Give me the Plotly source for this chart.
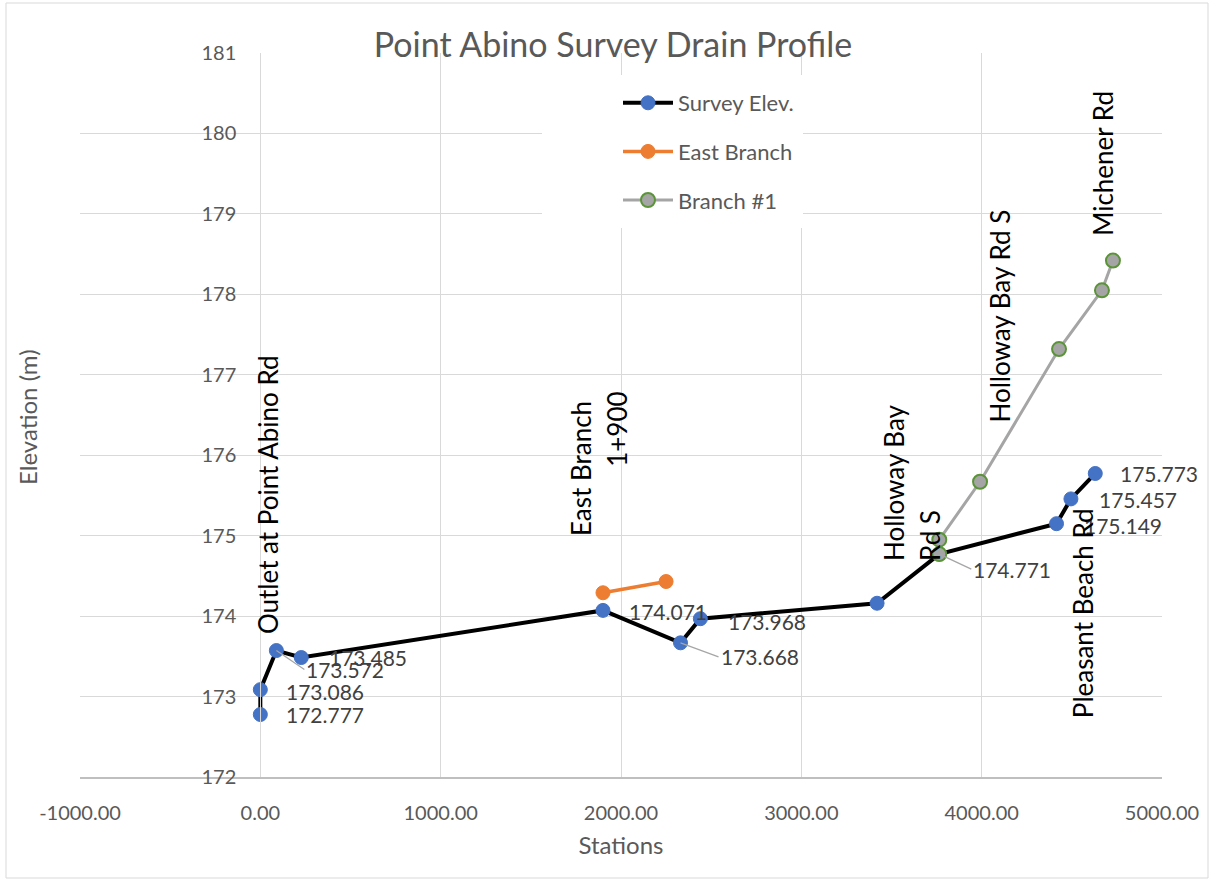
import plotly.graph_objects as go

# ---- data -------------------------------------------------------------
survey_stations = [0, 0, 89, 227, 1900, 2330, 2440, 3420, 3765, 4415, 4495, 4630]
survey_elev = [172.777, 173.086, 173.572, 173.485, 174.071, 173.668, 173.968,
               174.16, 174.771, 175.149, 175.457, 175.773]

east_stations = [1900, 2250]
east_elev = [174.29, 174.43]

branch1_stations = [3765, 3765, 3991, 4429, 4667, 4728]
branch1_elev = [174.771, 174.95, 175.67, 177.32, 178.05, 178.42]

x_ticks = [-1000, 0, 1000, 2000, 3000, 4000, 5000]
y_ticks = [172, 173, 174, 175, 176, 177, 178, 179, 180, 181]

place_names = ["Outlet at Point Abino Rd", "East Branch", "1+900", "Holloway Bay",
               "Rd S", "Holloway Bay Rd S", "Michener Rd", "Pleasant Beach Rd"]

# ---- page geometry ----------------------------------------------------
W, H = 1211, 882
ML, MR, MT, MB = 80, 49, 53, 105
PW, PH = W - ML - MR, H - MT - MB


def paper_x(px):
    return (px - ML) / PW


def paper_y(py):
    return (H - MB - py) / PH


FONT = "Lato, 'Open Sans', sans-serif"
GREY_TXT = "#595959"
LABEL_TXT = "#404040"
GRID = "#d9d9d9"

fig = go.Figure()

fig.add_trace(go.Scatter(
    x=survey_stations, y=survey_elev, mode="lines+markers", name="Survey Elev.",
    legendgroup="a",
    line=dict(color="#000000", width=4),
    marker=dict(color="#4472c4", size=14, line=dict(color="#4472c4", width=1)),
))
fig.add_trace(go.Scatter(
    x=east_stations, y=east_elev, mode="lines+markers", name="East Branch",
    legendgroup="b",
    line=dict(color="#ed7d31", width=3.5),
    marker=dict(color="#ed7d31", size=14, line=dict(color="#ed7d31", width=1)),
))
fig.add_trace(go.Scatter(
    x=branch1_stations, y=branch1_elev, mode="lines+markers", name="Branch #1",
    legendgroup="c",
    line=dict(color="#a5a5a5", width=3),
    marker=dict(color="#a5a5a5", size=14, line=dict(color="#5b9438", width=2)),
))

annotations = []

# value labels on the survey points: (dx, dy, leader line) in pixels
label_offsets = {
    0: (24, 0, False), 1: (24, 2, False), 2: (28, 19, True), 3: (26, 0, False),
    4: (24, 1, False), 5: (38, 14, True), 6: (26, 3, False), 8: (32, 15, True),
    9: (25, 2, False), 10: (26, 1, False), 11: (23, 0, False),
}
for i, (dx, dy, leader) in label_offsets.items():
    common = dict(x=survey_stations[i], y=survey_elev[i], xref="x", yref="y",
                  text=f"{survey_elev[i]:.3f}", xanchor="left", yanchor="middle",
                  font=dict(family=FONT, size=21, color=LABEL_TXT))
    if leader:
        annotations.append(dict(common, showarrow=True, ax=dx, ay=dy,
                                arrowhead=0, arrowwidth=1.3, arrowcolor="#a6a6a6",
                                standoff=0))
    else:
        annotations.append(dict(common, showarrow=False, xshift=dx, yshift=-dy))

# vertical place-name labels: (station, elevation at label foot, x shift px)
name_positions = [(50, 173.75, -2), (1792, 174.97, -3), (1997, 175.83, -3),
                  (3522, 174.66, -2), (3716, 174.66, -1), (4126, 176.38, -4),
                  (4691, 178.70, -4), (4580, 172.71, -3)]
for text, (sx, ey, shift) in zip(place_names, name_positions):
    annotations.append(dict(
        x=sx, y=ey, xref="x", yref="y", text=text, showarrow=False,
        textangle=-90, xanchor="center", yanchor="bottom", xshift=shift,
        font=dict(family=FONT, size=26, color="#000000"),
    ))

# y-axis title
annotations.append(dict(
    x=paper_x(28), y=paper_y(417), xref="paper", yref="paper",
    text="Elevation (m)", showarrow=False, textangle=-90,
    xanchor="center", yanchor="middle",
    font=dict(family=FONT, size=24, color=GREY_TXT),
))

shapes = [
    # chart border
    dict(type="rect", xref="paper", yref="paper",
         x0=paper_x(6), x1=paper_x(1208), y0=paper_y(878), y1=paper_y(3),
         line=dict(color=GRID, width=1), fillcolor="rgba(0,0,0,0)", layer="below"),
    # legend backing
    dict(type="rect", xref="paper", yref="paper",
         x0=paper_x(542), x1=paper_x(803), y0=paper_y(228), y1=paper_y(75),
         line=dict(width=0), fillcolor="#ffffff", layer="above"),
]

x_range = [-1000, 5000]
fig.update_layout(
    width=W, height=H,
    margin=dict(l=ML, r=MR, t=MT, b=MB),
    paper_bgcolor="#ffffff", plot_bgcolor="#ffffff",
    font=dict(family=FONT, color=GREY_TXT),
    title=dict(text="Point Abino Survey Drain Profile", x=613 / W, xanchor="center",
               y=1 - 45 / H, yanchor="middle", yref="container",
               font=dict(family=FONT, size=34, color=GREY_TXT)),
    xaxis=dict(
        range=x_range, tickvals=x_ticks, ticktext=[f"{v:.2f}" for v in x_ticks],
        showgrid=True, gridcolor=GRID, gridwidth=1, zeroline=False,
        showline=True, linecolor="#bfbfbf", linewidth=1.5, ticks="",
        ticklabelstandoff=17,
        tickfont=dict(family=FONT, size=20, color=GREY_TXT),
        title=dict(text="Stations", standoff=14,
                   font=dict(family=FONT, size=24, color=GREY_TXT)),
    ),
    yaxis=dict(
        range=[172, 181], tickvals=y_ticks,
        anchor="free", position=(0 - x_range[0]) / (x_range[1] - x_range[0]),
        showgrid=True, gridcolor=GRID, gridwidth=1, zeroline=False,
        showline=True, linecolor=GRID, linewidth=1, ticks="",
        ticklabelstandoff=20,
        tickfont=dict(family=FONT, size=20, color=GREY_TXT),
    ),
    legend=dict(
        x=paper_x(618), y=paper_y(82), xanchor="left", yanchor="top",
        bgcolor="#ffffff", borderwidth=0, tracegroupgap=17,
        font=dict(family=FONT, size=22, color=GREY_TXT), itemwidth=50,
    ),
    annotations=annotations,
    shapes=shapes,
)

fig.write_html("out.html")
